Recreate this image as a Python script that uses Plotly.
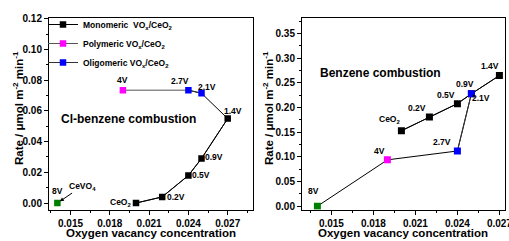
import plotly.graph_objects as go

# ---------------- data ----------------
labels = ["CeO2", "0.2V", "0.5V", "0.9V", "1.4V", "2.1V", "2.7V", "4V", "8V"]
vo_conc = [0.020, 0.022, 0.024, 0.025, 0.027, 0.025, 0.024, 0.019, 0.014]
rate_clbenzene = [0.000, 0.004, 0.018, 0.029, 0.055, 0.0715, 0.0735, 0.0735, 0.000]
rate_benzene = [0.153, 0.181, 0.208, 0.228, 0.265, 0.228, 0.112, 0.094, 0.000]
groups = ["mono", "mono", "mono", "mono", "mono", "oligo", "oligo", "poly", "cevo4"]
group_names = {
    "mono": "Monomeric  VO<sub>x</sub>/CeO<sub>2</sub>",
    "poly": "Polymeric VO<sub>x</sub>/CeO<sub>2</sub>",
    "oligo": "Oligomeric VO<sub>x</sub>/CeO<sub>2</sub>",
}
x_ticks = [0.015, 0.018, 0.021, 0.024, 0.027]
y_ticks_cl = [0.00, 0.02, 0.04, 0.06, 0.08, 0.10, 0.12]
y_ticks_bz = [0.00, 0.05, 0.10, 0.15, 0.20, 0.25, 0.30, 0.35]
label_text = {"CeO2": "CeO<sub>2</sub>"}

# ---------------- styles ----------------
FONT = "Liberation Sans"
colors = {"mono": "#000000", "poly": "#ff00ff", "oligo": "#0000ff", "cevo4": "#008000"}
legend_line = {"mono": "#000000", "poly": "#555555", "oligo": "#333333"}
# label offsets (px) relative to each point
off_cl = {"CeO2": (-16, 1), "0.2V": (14, 0), "0.5V": (12.5, 0), "0.9V": (12, 1.5),
          "1.4V": (5, 8), "2.1V": (5.5, 6), "2.7V": (-8, 9), "4V": (0, 10), "8V": (0, 12)}
off_bz = {"CeO2": (-11.5, 11), "0.2V": (-12.5, 9.3), "0.5V": (-11.5, 8.7), "0.9V": (-6.5, 9.5),
          "1.4V": (-9.5, 9.6), "2.1V": (10, -4.5), "2.7V": (-15, 8.6), "4V": (-8, 9), "8V": (-4, 15.7)}

W, H = 509, 241
def px(xp): return xp / W
def py(yp): return 1 - yp / H

fig = go.Figure()

def idx(g):
    return [i for i, gg in enumerate(groups) if gg == g]

def seg_of(names):
    return [labels.index(n) for n in names]

# ---- left panel: connecting path CeO2 -> 2.7V (black) and 2.7V -> 4V (gray)
for names, col in ((["CeO2", "0.2V", "0.5V", "0.9V", "1.4V", "2.1V", "2.7V"], "#000000"),
                   (["2.7V", "4V"], "#555555")):
    s = seg_of(names)
    fig.add_trace(go.Scatter(x=[vo_conc[i] for i in s], y=[rate_clbenzene[i] for i in s],
                             mode="lines", line=dict(color=col, width=1), showlegend=False,
                             xaxis="x", yaxis="y", hoverinfo="skip"))
# ---- right panel: two path segments
for names in (["CeO2", "0.2V", "0.5V", "0.9V", "1.4V"], ["2.1V", "2.7V", "4V", "8V"]):
    s = seg_of(names)
    fig.add_trace(go.Scatter(x=[vo_conc[i] for i in s], y=[rate_benzene[i] for i in s],
                             mode="lines", line=dict(color="#000000", width=1), showlegend=False,
                             xaxis="x2", yaxis="y2", hoverinfo="skip"))

for g in ["mono", "poly", "oligo", "cevo4"]:
    ii = idx(g)
    for panel, ys, ax, ay, sz in (("l", rate_clbenzene, "x", "y", 6.5), ("r", rate_benzene, "x2", "y2", 7)):
        fig.add_trace(go.Scatter(
            x=[vo_conc[i] for i in ii], y=[ys[i] for i in ii],
            mode="lines+markers" if g != "cevo4" else "markers",
            line=dict(color=legend_line.get(g, "#000"), width=1),
            marker=dict(symbol="square", size=sz, color=colors[g], line=dict(width=0)),
            name=group_names.get(g, g), legendgroup=g,
            showlegend=(panel == "l" and g != "cevo4"),
            xaxis=ax, yaxis=ay))

ann = []
lab_font = dict(family=FONT, size=8.5, color="#000", weight="bold")
C = dict(xanchor="center", yanchor="middle")
for i, l in enumerate(labels):
    dx, dy = off_cl[l]
    ann.append(dict(x=vo_conc[i], y=rate_clbenzene[i], xref="x", yref="y", text=label_text.get(l, l),
                    showarrow=False, xshift=dx, yshift=dy, font=lab_font, **C))
    dx, dy = off_bz[l]
    ann.append(dict(x=vo_conc[i], y=rate_benzene[i], xref="x2", yref="y2", text=label_text.get(l, l),
                    showarrow=False, xshift=dx, yshift=dy, font=lab_font, **C))
i8 = labels.index("8V")
ann.append(dict(x=vo_conc[i8], y=rate_clbenzene[i8], xref="x", yref="y", text="CeVO<sub>4</sub>",
                showarrow=True, ax=25, ay=-17, arrowhead=2, arrowsize=0.8, arrowwidth=1,
                arrowcolor="#000", standoff=3, font=lab_font))
title_font = dict(family=FONT, size=12, color="#000", weight="bold")
ann.append(dict(x=px(128.5), y=py(119), xref="paper", yref="paper", text="Cl-benzene combustion",
                showarrow=False, font=title_font, **C))
ann.append(dict(x=px(380.5), y=py(72.7), xref="paper", yref="paper", text="Benzene combustion",
                showarrow=False, font=title_font, **C))
ytitle = "Rate / μmol m<sup>-2</sup> min<sup>-1</sup>"
axt_font = dict(family=FONT, size=11.5, color="#000", weight="bold")
for xc in (18, 268):
    ann.append(dict(x=px(xc), y=py(108), xref="paper", yref="paper", text=ytitle, textangle=-90,
                    showarrow=False, font=axt_font, **C))
for xc in (151, 403):
    ann.append(dict(x=px(xc), y=py(233), xref="paper", yref="paper", text="Oxygen vacancy concentration",
                    showarrow=False, font=axt_font, **C))

tick_font = dict(family=FONT, size=10, color="#000", weight="bold")
def axis(domain, rng, ticks, fmt, minor_dt, anchor):
    return dict(domain=domain, range=rng, tickmode="array", tickvals=ticks, tickformat=fmt,
                showgrid=False, zeroline=False, showline=True, linecolor="#000", linewidth=1,
                mirror=True, ticks="outside", ticklen=4, tickwidth=1, tickcolor="#000",
                tickfont=tick_font, anchor=anchor, automargin=False, ticklabeloverflow="allow",
                minor=dict(ticks="outside", ticklen=2, tickwidth=1, tickcolor="#000",
                           dtick=minor_dt, tick0=0.0, showgrid=False))

ydom = [1 - 209.5 / H, 1 - 18 / H]
fig.update_layout(
    width=W, height=H, margin=dict(l=0, r=0, t=0, b=0),
    paper_bgcolor="white", plot_bgcolor="white",
    font=dict(family=FONT, size=10, color="#000", weight="bold"),
    xaxis=axis([px(49), px(253)], [0.01336, 0.02893], x_ticks, ".3f", 0.0015, "y"),
    yaxis=axis(ydom, [-0.0042, 0.1205], y_ticks_cl, ".2f", 0.01, "x"),
    xaxis2=axis([px(302), px(505)], [0.0129, 0.0274], x_ticks, ".3f", 0.0015, "y2"),
    yaxis2=axis(ydom, [-0.0067, 0.3817], y_ticks_bz, ".2f", 0.025, "x2"),
    legend=dict(x=px(43), y=py(10), xanchor="left", yanchor="top", bgcolor="rgba(0,0,0,0)",
                font=dict(family=FONT, size=8.5, color="#000", weight="bold"),
                itemwidth=30, tracegroupgap=0),
    annotations=ann, showlegend=True,
)
fig.write_html("out.html", config={"displayModeBar": False},
               post_script="document.body.style.margin='0';document.body.style.overflow='hidden';")
